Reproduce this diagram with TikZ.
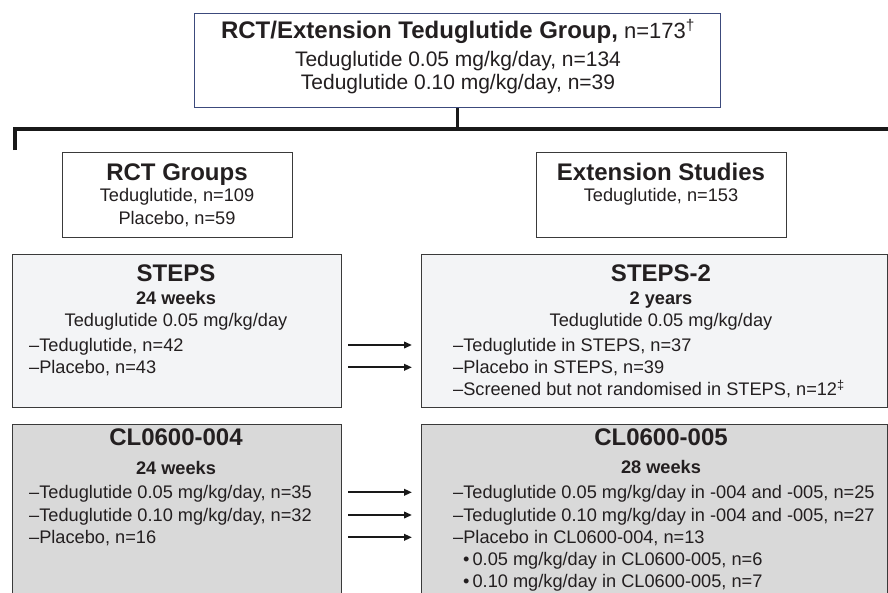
\documentclass[tikz,border=0pt]{standalone}
\usepackage{fontspec}
\setmainfont{Liberation Sans}
\usetikzlibrary{arrows.meta}
\definecolor{boxborder}{HTML}{3A3A3A}
\definecolor{topborder}{HTML}{3C4A7C}
\definecolor{lightfill}{HTML}{F3F4F6}
\definecolor{grayfill}{HTML}{D9D9D9}
\definecolor{txtcol}{HTML}{231F20}
\newcommand\fsbody{\fontsize{18.2}{22}\selectfont}
\newcommand\fstop{\fontsize{21}{24}\selectfont}
\newcommand\fstopn{\fontsize{22}{24}\selectfont}
\newcommand\fstitle{\fontsize{24}{27}\selectfont\bfseries}
\newcommand\fssub{\fontsize{18.2}{22}\selectfont\bfseries}
\tikzset{
  panel/.style={rectangle, draw=boxborder, line width=1pt, inner sep=0pt, anchor=north west},
  toppanel/.style={panel, draw=topborder, fill=white},
  whitepanel/.style={panel, fill=white},
  lightpanel/.style={panel, fill=lightfill},
  graypanel/.style={panel, fill=grayfill},
  txt/.style={inner sep=0pt, text=txtcol, font=\fsbody},
  ctxt/.style={txt, anchor=base},
  ltxt/.style={txt, anchor=base west},
  bracketline/.style={line width=3.5pt, draw=black!90},
  flowarrow/.style={line width=2pt, draw=black!90, -{Triangle[length=8pt,width=6.5pt]}, shorten <=6pt, shorten >=9pt},
}
\begin{document}
\begin{tikzpicture}[x=1pt,y=-1pt]
\useasboundingbox (0,0) rectangle (888,592);
\clip (0,0) rectangle (888,592);
% boxes
\node[toppanel, minimum width=526pt, minimum height=94pt] (top) at (194,13) {};
\node[whitepanel, minimum width=230pt, minimum height=85pt] (rct) at (62,152) {};
\node[whitepanel, minimum width=250pt, minimum height=85pt] (ext) at (536,152) {};
\node[lightpanel, minimum width=329pt, minimum height=153pt] (steps) at (12,254) {};
\node[lightpanel, minimum width=466pt, minimum height=153pt] (steps2) at (421,254) {};
\node[graypanel, minimum width=329pt, minimum height=180pt] (cl4) at (12,424) {};
\node[graypanel, minimum width=466pt, minimum height=180pt] (cl5) at (421,424) {};
% bracket
\coordinate (bl) at (15,150);
\coordinate (br) at (892,129);
\draw[bracketline] (top.south) -- (top.south |- br);
\draw[bracketline] (bl) |- (br);
% top text
\node[ctxt] (t1) at (458,38.5) {\fstitle RCT/Extension Teduglutide Group,\mdseries\fstopn\ n=173\textsuperscript{†}};
\node[ctxt] (t2) at (458,66.5) {\fstop Teduglutide 0.05 mg/kg/day, n=134};
\node[ctxt] (t3) at (458,89) {\fstop Teduglutide 0.10 mg/kg/day, n=39};
% RCT groups
\node[ctxt] (r1) at (177,180) {\fstitle RCT Groups};
\node[ctxt] (r2) at (177,201.7) {Teduglutide, n=109};
\node[ctxt] (r3) at (177,224) {Placebo, n=59};
% Extension
\node[ctxt] (e1) at (661,180) {\fstitle Extension Studies};
\node[ctxt] (e2) at (661,201.7) {Teduglutide, n=153};
% STEPS
\node[ctxt] (s1) at (176,281.7) {\fstitle STEPS};
\node[ctxt] (s2) at (176,304.3) {\fssub 24 weeks};
\node[ctxt] (s3) at (176,326) {Teduglutide 0.05 mg/kg/day};
\node[ltxt] (s4) at (29,351) {–Teduglutide, n=42};
\node[ltxt] (s5) at (29,373.3) {–Placebo, n=43};
% STEPS-2
\node[ctxt] (p1) at (661,281.7) {\fstitle STEPS-2};
\node[ctxt] (p2) at (661,304) {\fssub 2 years};
\node[ctxt] (p3) at (661,326) {Teduglutide 0.05 mg/kg/day};
\node[ltxt] (p4) at (453,351) {–Teduglutide in STEPS, n=37};
\node[ltxt] (p5) at (453,373.3) {–Placebo in STEPS, n=39};
\node[ltxt] (p6) at (453,395.5) {–Screened but not randomised in STEPS, n=12\textsuperscript{‡}};
% CL0600-004
\node[ctxt] (c1) at (176,445) {\fstitle CL0600-004};
\node[ctxt] (c2) at (176,474) {\fssub 24 weeks};
\node[ltxt] (c3) at (29,498.3) {–Teduglutide 0.05 mg/kg/day, n=35};
\node[ltxt] (c4) at (29,521) {–Teduglutide 0.10 mg/kg/day, n=32};
\node[ltxt] (c5) at (29,543.3) {–Placebo, n=16};
% CL0600-005
\node[ctxt] (d1) at (661,445) {\fstitle CL0600-005};
\node[ctxt] (d2) at (661,473.5) {\fssub 28 weeks};
\node[ltxt] (d3) at (453,498.3) {–Teduglutide 0.05 mg/kg/day in -004 and -005, n=25};
\node[ltxt] (d4) at (453,521) {–Teduglutide 0.10 mg/kg/day in -004 and -005, n=27};
\node[ltxt] (d5) at (453,543.3) {–Placebo in CL0600-004, n=13};
\node[ltxt] (d6) at (463,565.5) {•\,0.05 mg/kg/day in CL0600-005, n=6};
\node[ltxt] (d7) at (463,587.5) {•\,0.10 mg/kg/day in CL0600-005, n=7};
% arrows
\draw[flowarrow] ([yshift=6pt]steps.east |- s4.base) -- ([yshift=6pt]steps2.west |- s4.base);
\draw[flowarrow] ([yshift=6pt]steps.east |- s5.base) -- ([yshift=6pt]steps2.west |- s5.base);
\draw[flowarrow] ([yshift=6pt]cl4.east |- c3.base) -- ([yshift=6pt]cl5.west |- c3.base);
\draw[flowarrow] ([yshift=6pt]cl4.east |- c4.base) -- ([yshift=6pt]cl5.west |- c4.base);
\draw[flowarrow] ([yshift=6pt]cl4.east |- c5.base) -- ([yshift=6pt]cl5.west |- c5.base);
\end{tikzpicture}
\end{document}
